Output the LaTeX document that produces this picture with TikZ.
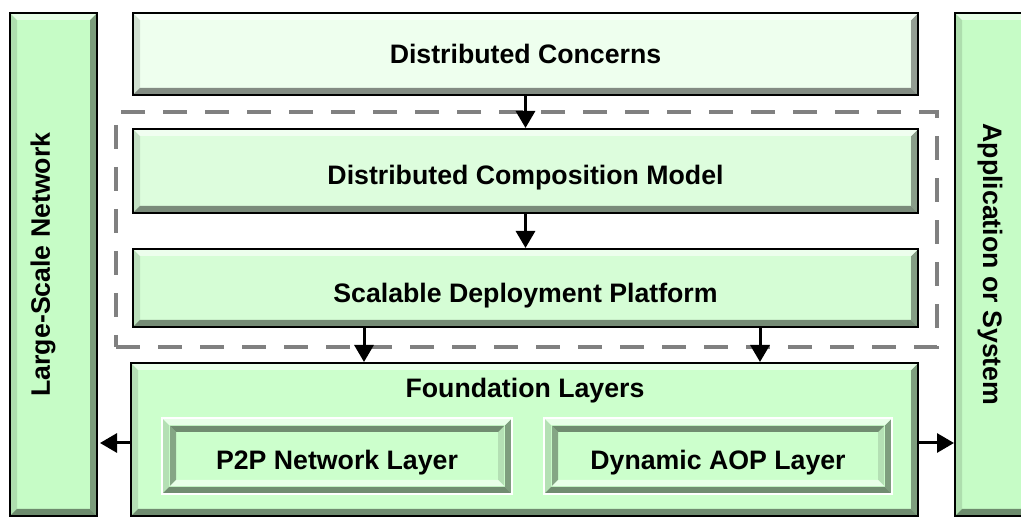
\documentclass[tikz,border=0pt]{standalone}
\usepackage{fontspec}
\setmainfont{Liberation Sans}
\usetikzlibrary{arrows.meta,calc}
\definecolor{cA}{HTML}{EEFFEE}
\definecolor{cB}{HTML}{DDFDDD}
\definecolor{cC}{HTML}{D5FDD5}
\definecolor{cD}{HTML}{CCFFCC}
\definecolor{cE}{HTML}{C6FCC6}
\definecolor{dashc}{HTML}{808080}
\begin{document}
\begin{tikzpicture}[x=1pt,y=-1pt,
  bevw/.store in=\bevw, bevw=7pt,
  bevel/.style n args={5}{rectangle, inner sep=0pt, fill=#1,
    path picture={
      \path (path picture bounding box.north west) coordinate (pa)
            (path picture bounding box.north east) coordinate (pb)
            (path picture bounding box.south east) coordinate (pc)
            (path picture bounding box.south west) coordinate (pd);
      \fill[#3] (pa) -- ([shift={(\bevw,-\bevw)}]pa) -- ([shift={(\bevw,\bevw)}]pd) -- (pd) -- cycle;
      \fill[#4] (pb) -- ([shift={(-\bevw,-\bevw)}]pb) -- ([shift={(-\bevw,\bevw)}]pc) -- (pc) -- cycle;
      \fill[#2] (pa) -- (pb) -- ([shift={(-\bevw,-\bevw)}]pb) -- ([shift={(\bevw,-\bevw)}]pa) -- cycle;
      \fill[#5] (pd) -- (pc) -- ([shift={(-\bevw,\bevw)}]pc) -- ([shift={(\bevw,\bevw)}]pd) -- cycle;
    }},
  raised/.style={bevel={#1}{#1!45!white}{#1!88!black}{#1!62!black}{#1!55!black}},
  sunken/.style={bevel={#1}{#1!55!black}{#1!65!black}{#1!88!black}{#1!45!white}},
  boxline/.style={draw=black, line width=2pt},
  lbl/.style={font=\fontsize{26.7}{30}\selectfont\bfseries, text=black},
  low/.style={text height=#1, text depth=0pt},
  arr/.style={draw=black, line width=3pt, -{Triangle[length=17pt,width=19pt]}},
  grpbox/.style={draw=dashc, line width=4pt, dash pattern=on 24pt off 18pt, rectangle, inner sep=0pt}
]
\useasboundingbox (0,0) rectangle (1021,518);
\clip (0,0) rectangle (1021,518);
\fill[white] (0,0) rectangle (1021,518);

% side boxes
\node[raised=cE, boxline, minimum width=87pt, minimum height=503pt] (L) at (53.5,264.5) {};
\node[lbl, rotate=90] (Ltxt) at (43,264.5) {Large-Scale Network};
\node[raised=cE, boxline, minimum width=87pt, minimum height=503pt] (R) at (998.5,264.5) {};
\node[lbl, rotate=-90] (Rtxt) at (990,264.5) {Application or System};

% dashed group
\node[grpbox, minimum width=821pt, minimum height=235pt] (grp) at (526.5,229.5) {};

% main stack
\node[raised=cA, boxline, lbl, minimum width=785pt, minimum height=82pt] (dc) at (525.5,54) {Distributed Concerns};
\node[raised=cB, boxline, lbl, low=27pt, minimum width=785pt, minimum height=84pt] (dcm) at (525.5,171) {Distributed Composition Model};
\node[raised=cC, boxline, lbl, low=29pt, minimum width=785pt, minimum height=78pt] (sdp) at (525.5,288) {Scalable Deployment Platform};
\node[raised=cD, boxline, minimum width=787pt, minimum height=153pt] (fl) at (524.5,439.5) {};
\node[lbl] (fltxt) at (525,391) {Foundation Layers};

% inner layers
\node[raised=cD, draw=white, line width=1.5pt, minimum width=350pt, minimum height=76pt] (p2p) at (337,456) {};
\node[sunken=cD, bevw=6pt, lbl, low=27pt, minimum width=334pt, minimum height=60pt] (p2pin) at (337,456) {P2P Network Layer};
\node[raised=cD, draw=white, line width=1.5pt, minimum width=348pt, minimum height=76pt] (aop) at (718,456) {};
\node[sunken=cD, bevw=6pt, lbl, low=27pt, minimum width=332pt, minimum height=60pt] (aopin) at (718,456) {Dynamic AOP Layer};

% connectors
\coordinate (xa) at (364,0);
\coordinate (xb) at (760,0);
\coordinate (ya) at (0,443);
\draw[arr] (dc.south) -- (dcm.north);
\draw[arr] (dcm.south) -- (sdp.north);
\draw[arr] (sdp.south -| xa) -- (fl.north -| xa);
\draw[arr] (sdp.south -| xb) -- (fl.north -| xb);
\draw[arr, shorten >=2pt] (fl.west |- ya) -- (L.east |- ya);
\draw[arr] (fl.east |- ya) -- (R.west |- ya);
\end{tikzpicture}
\end{document}
